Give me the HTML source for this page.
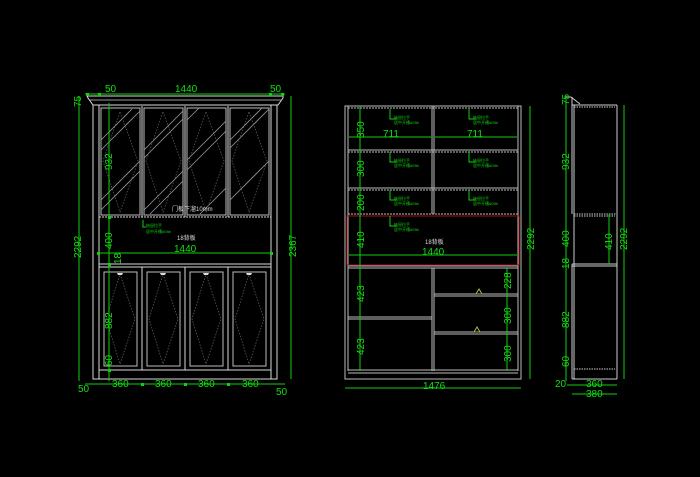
<!DOCTYPE html>
<html><head><meta charset="utf-8"><style>
html,body{margin:0;padding:0;background:#000;}
svg{display:block}
text{font-family:"Liberation Sans","Noto Sans CJK SC",sans-serif;}
.g{fill:#10e010;font-size:10px}
.gs{fill:#10d010;font-size:4px}
.w{fill:#ddd;font-size:6px}
</style></head><body>
<svg width="700" height="477" viewBox="0 0 700 477" xmlns="http://www.w3.org/2000/svg">
<rect width="700" height="477" fill="#000"/>

<!-- ============ PANEL 1 ============ -->
<g stroke="#d8d8d8" stroke-width="1" fill="none">
  <!-- crown -->
  <polygon points="87,96 283,96 283,98 278,105 93,105 88,98"/>
  <line x1="90" y1="100" x2="281" y2="100" stroke="#999"/>
  <!-- carcass -->
  <rect x="93" y="105" width="184" height="274"/>
  <line x1="99" y1="105" x2="99" y2="379"/>
  <line x1="271" y1="105" x2="271" y2="379"/>
  <!-- upper doors -->
  <line x1="142" y1="106" x2="142" y2="217"/>
  <line x1="185" y1="106" x2="185" y2="217"/>
  <line x1="228" y1="106" x2="228" y2="217"/>
  <rect x="101" y="108" width="39" height="107" stroke="#bbb"/>
  <rect x="144" y="108" width="39" height="107" stroke="#bbb"/>
  <rect x="187" y="108" width="39" height="107" stroke="#bbb"/>
  <rect x="230" y="108" width="39" height="107" stroke="#bbb"/>
  <line x1="99" y1="217" x2="271" y2="217" stroke-dasharray="2,1"/>
  <!-- lower shelf -->
  <line x1="99" y1="264" x2="271" y2="264"/>
  <line x1="99" y1="267" x2="271" y2="267"/>
  <!-- lower doors -->
  <line x1="142" y1="267" x2="142" y2="370"/>
  <line x1="185" y1="267" x2="185" y2="370"/>
  <line x1="228" y1="267" x2="228" y2="370"/>
  <rect x="104" y="272" width="33" height="94" stroke="#bbb"/>
  <rect x="147" y="272" width="33" height="94" stroke="#bbb"/>
  <rect x="190" y="272" width="33" height="94" stroke="#bbb"/>
  <rect x="233" y="272" width="33" height="94" stroke="#bbb"/>
  <line x1="99" y1="370" x2="271" y2="370"/>
</g>
<!-- glass diagonals -->
<g stroke="#9a9a9a" stroke-width="0.8">
  <line x1="101" y1="140" x2="132" y2="109"/><line x1="101" y1="150" x2="140" y2="111"/>
  <line x1="101" y1="200" x2="140" y2="161"/><line x1="101" y1="210" x2="140" y2="171"/>
  <line x1="144" y1="150" x2="183" y2="111"/><line x1="144" y1="158" x2="183" y2="119"/>
  <line x1="144" y1="210" x2="183" y2="171"/><line x1="150" y1="214" x2="183" y2="181"/>
  <line x1="187" y1="120" x2="199" y2="108"/><line x1="187" y1="160" x2="226" y2="121"/>
  <line x1="187" y1="170" x2="226" y2="131"/><line x1="200" y1="214" x2="226" y2="188"/>
  <line x1="230" y1="140" x2="262" y2="108"/><line x1="230" y1="148" x2="269" y2="109"/>
  <line x1="230" y1="200" x2="269" y2="161"/>
</g>
<g stroke="#666" stroke-width="0.7" stroke-dasharray="1.5,1.5" fill="none">
  <polygon points="120,112 138,161 120,212 103,161"/>
  <polygon points="163,112 181,161 163,212 146,161"/>
  <polygon points="206,112 224,161 206,212 189,161"/>
  <polygon points="249,112 267,161 249,212 232,161"/>
  <polygon points="120,274 135,319 120,364 106,319"/>
  <polygon points="163,274 178,319 163,364 149,319"/>
  <polygon points="206,274 221,319 206,364 192,319"/>
  <polygon points="249,274 264,319 249,364 235,319"/>
</g>
<!-- handles -->
<g fill="#ddd">
  <path d="M117,273 h6 l-1,2 h-4 z"/><path d="M160,273 h6 l-1,2 h-4 z"/>
  <path d="M203,273 h6 l-1,2 h-4 z"/><path d="M246,273 h6 l-1,2 h-4 z"/>
</g>
<text class="w" x="172" y="211">门板下溜10mm</text>
<text class="w" x="177" y="240">18背板</text>
<!-- green dims panel1 -->
<g stroke="#10d010" stroke-width="1" fill="none">
  <line x1="85" y1="94" x2="285" y2="94"/>
  <line x1="79" y1="96" x2="79" y2="381"/>
  <line x1="109" y1="103" x2="109" y2="381"/>
  <line x1="291" y1="96" x2="291" y2="379"/>
  <line x1="99" y1="253" x2="271" y2="253"/>
  <line x1="85" y1="384" x2="285" y2="384"/>
  <polyline points="143,220 143,227 146,227"/>
</g>
<g fill="#10d010">
  <rect x="86" y="93" width="3" height="3"/><rect x="98" y="93" width="3" height="3"/><rect x="269" y="93" width="3" height="3"/><rect x="281" y="93" width="3" height="3"/>
  <rect x="97" y="252" width="3" height="3"/><rect x="270" y="252" width="3" height="3"/>
  <rect x="108" y="216" width="3" height="3"/><rect x="108" y="263" width="3" height="3"/><rect x="108" y="369" width="3" height="3"/>
  <rect x="141" y="383" width="3" height="3"/><rect x="184" y="383" width="3" height="3"/><rect x="227" y="383" width="3" height="3"/>
</g>
<text class="g" x="105" y="92">50</text>
<text class="g" x="175" y="92">1440</text>
<text class="g" x="270" y="92">50</text>
<text class="g" x="174" y="252">1440</text>
<text class="g" x="78" y="392">50</text>
<text class="g" x="112" y="387">360</text>
<text class="g" x="155" y="387">360</text>
<text class="g" x="198" y="387">360</text>
<text class="g" x="242" y="387">360</text>
<text class="g" x="276" y="395">50</text>
<text class="gs" x="146" y="227">抽屉拉手</text>
<text class="gs" x="146" y="233">居中开槽d05b</text>
<g class="g">
  <text transform="translate(81,107) rotate(-90)" class="g">75</text>
  <text transform="translate(81,258) rotate(-90)" class="g">2292</text>
  <text transform="translate(112,170) rotate(-90)" class="g">932</text>
  <text transform="translate(112,249) rotate(-90)" class="g">400</text>
  <text transform="translate(121,264) rotate(-90)" class="g">18</text>
  <text transform="translate(112,329) rotate(-90)" class="g">882</text>
  <text transform="translate(112,366) rotate(-90)" class="g">60</text>
  <text transform="translate(296,257) rotate(-90)" class="g">2367</text>
</g>

<!-- ============ PANEL 2 ============ -->
<g stroke="#bbb" stroke-width="1" fill="none">
  <rect x="345" y="106" width="176" height="273"/>
  <line x1="348" y1="106" x2="348" y2="371"/>
  <line x1="518" y1="106" x2="518" y2="371"/>
  <line x1="348" y1="108" x2="518" y2="108" stroke-dasharray="2,1"/>
  <line x1="348" y1="150" x2="518" y2="150"/><line x1="348" y1="152" x2="518" y2="152" stroke-dasharray="2,1"/>
  <line x1="348" y1="188" x2="518" y2="188"/><line x1="348" y1="190" x2="518" y2="190" stroke-dasharray="2,1"/>
  <line x1="348" y1="214" x2="518" y2="214" stroke-dasharray="2,1"/>
  <line x1="348" y1="266" x2="518" y2="266"/><line x1="348" y1="268" x2="518" y2="268"/>
  <line x1="432" y1="106" x2="432" y2="214"/><line x1="434" y1="106" x2="434" y2="214"/>
  <line x1="432" y1="268" x2="432" y2="371"/><line x1="434" y1="268" x2="434" y2="371"/>
  <line x1="348" y1="317" x2="432" y2="317"/><line x1="348" y1="319" x2="432" y2="319"/>
  <line x1="434" y1="294" x2="518" y2="294"/><line x1="434" y1="296" x2="518" y2="296"/>
  <line x1="434" y1="332" x2="518" y2="332"/><line x1="434" y1="334" x2="518" y2="334"/>
  <line x1="348" y1="370" x2="518" y2="370"/><line x1="348" y1="373" x2="518" y2="373"/>
</g>
<rect x="347" y="216" width="172" height="49" fill="none" stroke="#a01010" stroke-width="1"/>
<g fill="none" stroke="#b0b060" stroke-width="1">
  <polygon points="479,289 482,294 476,294"/>
  <polygon points="477,327 480,332 474,332"/>
</g>
<g stroke="#10d010" stroke-width="1" fill="none">
  <line x1="360" y1="106" x2="360" y2="371"/>
  <line x1="349" y1="137" x2="431" y2="137"/>
  <line x1="435" y1="137" x2="517" y2="137"/>
  <line x1="349" y1="255" x2="517" y2="255"/>
  <line x1="507" y1="268" x2="507" y2="371"/>
  <line x1="530" y1="106" x2="530" y2="379"/>
  <line x1="345" y1="388" x2="521" y2="388"/>
  <polyline points="390,109 390,119 397,119"/><polyline points="469,109 469,119 476,119"/>
  <polyline points="390,152 390,162 397,162"/><polyline points="469,152 469,162 476,162"/>
  <polyline points="390,190 390,200 397,200"/><polyline points="469,190 469,200 476,200"/>
  <polyline points="390,216 390,226 397,226"/>
</g>
<g class="gs">
  <text x="394" y="119">抽屉拉手</text><text x="394" y="124">居中开槽d05b</text>
  <text x="473" y="119">抽屉拉手</text><text x="473" y="124">居中开槽d05b</text>
  <text x="394" y="162">抽屉拉手</text><text x="394" y="167">居中开槽d05b</text>
  <text x="473" y="162">抽屉拉手</text><text x="473" y="167">居中开槽d05b</text>
  <text x="394" y="200">抽屉拉手</text><text x="394" y="205">居中开槽d05b</text>
  <text x="473" y="200">抽屉拉手</text><text x="473" y="205">居中开槽d05b</text>
  <text x="394" y="226">抽屉拉手</text><text x="394" y="231">居中开槽d05b</text>
</g>
<text class="g" x="383" y="137">711</text>
<text class="g" x="467" y="137">711</text>
<text class="g" x="422" y="255">1440</text>
<text class="w" x="425" y="244">18背板</text>
<text class="g" x="423" y="389">1476</text>
<g>
  <text transform="translate(364,138) rotate(-90)" class="g">350</text>
  <text transform="translate(364,177) rotate(-90)" class="g">300</text>
  <text transform="translate(364,211) rotate(-90)" class="g">200</text>
  <text transform="translate(364,248) rotate(-90)" class="g">410</text>
  <text transform="translate(364,302) rotate(-90)" class="g">423</text>
  <text transform="translate(364,355) rotate(-90)" class="g">423</text>
  <text transform="translate(511,289) rotate(-90)" class="g">228</text>
  <text transform="translate(511,324) rotate(-90)" class="g">300</text>
  <text transform="translate(511,362) rotate(-90)" class="g">300</text>
  <text transform="translate(534,250) rotate(-90)" class="g">2292</text>
</g>

<!-- ============ PANEL 3 ============ -->
<g stroke="#ccc" stroke-width="1" fill="none">
  <polyline points="565,97 571,97 580,104"/>
  <line x1="572" y1="105" x2="617" y2="105"/>
  <line x1="572" y1="97" x2="572" y2="214"/>
  <line x1="574" y1="105" x2="574" y2="379"/>
  <line x1="572" y1="264" x2="572" y2="379"/>
  <line x1="617" y1="105" x2="617" y2="379"/>
  <line x1="574" y1="107" x2="615" y2="107" stroke-dasharray="1.5,1"/>
  <line x1="574" y1="214" x2="617" y2="214" stroke-dasharray="1.5,1"/>
  <line x1="574" y1="216" x2="615" y2="216" stroke-dasharray="1.5,1"/>
  <line x1="572" y1="264" x2="617" y2="264"/><line x1="572" y1="266" x2="617" y2="266"/>
  <line x1="574" y1="369" x2="615" y2="369" stroke-dasharray="1.5,1"/>
  <line x1="572" y1="379" x2="617" y2="379"/>
</g>
<g stroke="#10d010" stroke-width="1" fill="none">
  <line x1="566" y1="96" x2="566" y2="381"/>
  <line x1="609" y1="214" x2="609" y2="264"/>
  <line x1="624" y1="105" x2="624" y2="379"/>
  <line x1="567" y1="385" x2="617" y2="385"/>
  <line x1="572" y1="394" x2="617" y2="394"/>
</g>
<g>
  <text transform="translate(569,105) rotate(-90)" class="g">75</text>
  <text transform="translate(569,170) rotate(-90)" class="g">932</text>
  <text transform="translate(569,247) rotate(-90)" class="g">400</text>
  <text transform="translate(569,269) rotate(-90)" class="g">18</text>
  <text transform="translate(569,328) rotate(-90)" class="g">882</text>
  <text transform="translate(569,367) rotate(-90)" class="g">60</text>
  <text transform="translate(612,250) rotate(-90)" class="g">410</text>
  <text transform="translate(627,250) rotate(-90)" class="g">2292</text>
</g>
<text class="g" x="555" y="387">20</text>
<text class="g" x="586" y="387">360</text>
<text class="g" x="586" y="397">380</text>
</svg>
</body></html>
